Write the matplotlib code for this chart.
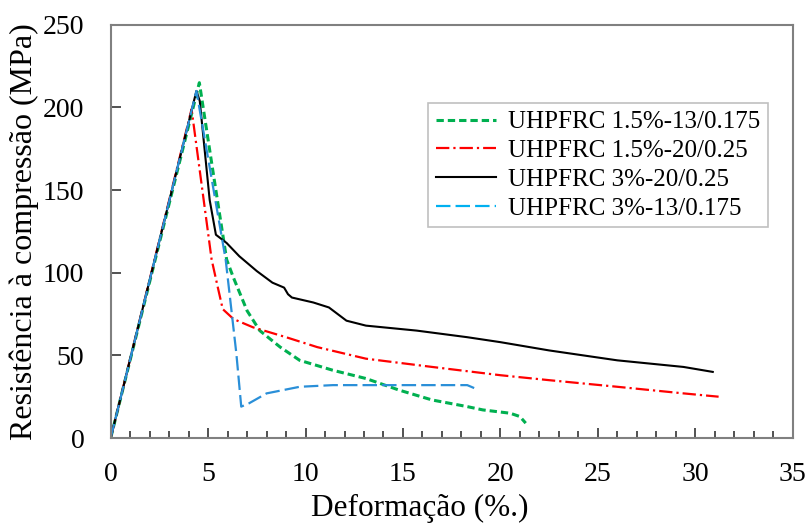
import numpy as np
import matplotlib
matplotlib.use("Agg")
from matplotlib import pyplot as plt
from matplotlib.ticker import MultipleLocator

plt.rcParams['font.family'] = ['Liberation Serif', 'DejaVu Serif']

# data (strain %, stress MPa)
green_x = [0, 4.55, 5.2, 5.95, 6.3, 7.0, 7.65, 8.7, 9.7, 11.4, 13.1, 14.8, 16.5, 18.3, 19.1, 20.5, 21.0, 21.3]
green_y = [0, 215, 165, 108, 97, 77, 65, 55, 47, 41, 36, 29, 23, 19, 17, 15, 13, 9]

red_x = [0, 4.15, 5.18, 5.5, 5.75, 6.3, 7.3, 9.0, 10.6, 13.1, 16.5, 20.0, 22.5, 26.0, 29.4, 31.2]
red_y = [0, 199, 108, 91, 78, 72, 67, 61, 55, 48, 43, 38, 35, 31, 27, 25]

black_x = [0, 4.4, 4.57, 5.08, 5.4, 5.95, 6.6, 7.5, 8.3, 8.9, 9.1, 9.3, 10.4, 11.2, 12.1, 13.1, 15.7,
           18.3, 20.0, 22.5, 26.0, 29.4, 30.9]
black_y = [0, 210, 204, 144, 123, 118, 110, 101, 94, 91, 87, 85, 82, 79, 71, 68, 65,
           61, 58, 53, 47, 43, 40]

blue_x = [0, 4.4, 5.9, 6.45, 6.7, 7.1, 8.0, 9.7, 11.4, 15.0, 18.3, 18.7]
blue_y = [0, 210, 108, 51, 19, 21, 27, 31, 32, 32, 32, 30]

labels = ['UHPFRC 1.5%-13/0.175', 'UHPFRC 1.5%-20/0.25',
          'UHPFRC 3%-20/0.25', 'UHPFRC 3%-13/0.175']

fig = plt.figure(figsize=(8.08, 5.23), dpi=100)
ax = fig.add_axes([0.137, 0.1625, 0.844, 0.79])

ax.plot(green_x, green_y, color='#00b050', lw=2.2, ls=(0, (2.4, 1.3)), label=labels[0])
ax.plot(red_x, red_y, color='#ff0000', lw=1.6, ls=(0, (6, 1.8, 1, 1.8)), label=labels[1])
ax.plot(black_x, black_y, color='black', lw=1.5, ls='-', label=labels[2])
ax.plot(blue_x, blue_y, color='#2a8fd8', lw=1.6, ls=(0, (6.5, 2.3)), label=labels[3])

ax.set_xlim(0, 35)
ax.set_ylim(0, 250)
ax.xaxis.set_major_locator(MultipleLocator(5))
ax.xaxis.set_minor_locator(MultipleLocator(1))
ax.yaxis.set_major_locator(MultipleLocator(50))
ax.tick_params(axis='both', which='both', direction='in', labelsize=20, colors='#333333',
               labelcolor='black', width=1.2)
ax.tick_params(axis='x', which='major', length=7, pad=17)
ax.tick_params(axis='x', which='minor', length=5)
ax.tick_params(axis='y', which='major', length=7, pad=19)

for s in ax.spines.values():
    s.set_color('#808080')
    s.set_linewidth(1.5)

ax.set_xlabel('Deformação (%.)', fontsize=22.5)
ax.xaxis.set_label_coords(0.453, -0.135)
ax.set_ylabel('Resistência à compressão (MPa)', fontsize=23, labelpad=3)

leg = ax.legend(loc='upper left', bbox_to_anchor=(0.466, 0.81), fontsize=18,
                frameon=True, fancybox=False, edgecolor='#b0b0b0', handlelength=2.4,
                labelspacing=0.25, borderpad=0.3, handletextpad=0.5, borderaxespad=0)
leg.get_frame().set_linewidth(1.2)
leg_colors = ['#00b050', '#ff0000', 'black', '#00b0f0']
for h, c in zip(leg.get_lines(), leg_colors):
    h.set_color(c)

fig.savefig('out.png', dpi=100)
